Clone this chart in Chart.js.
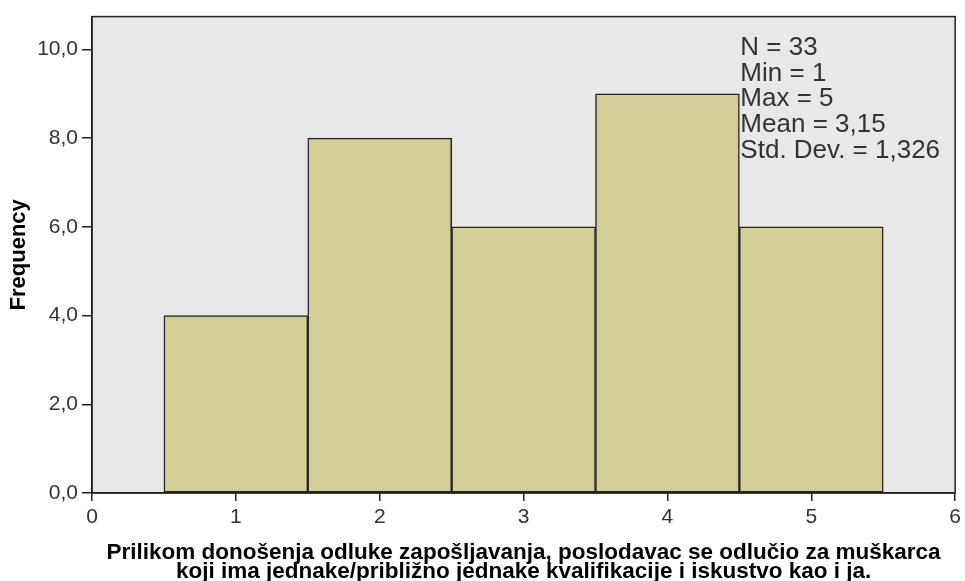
<!DOCTYPE html>
<html>
<head>
<meta charset="utf-8">
<script src="https://cdn.jsdelivr.net/npm/chart.js@4/dist/chart.umd.min.js"></script>
<style>
  html, body { margin: 0; padding: 0; background: #fff; }
  #wrap { width: 965px; height: 581px; }
</style>
</head>
<body>
<div id="wrap"><canvas id="c" width="965" height="581"></canvas></div>
<script>
  // histogram bins: centre value and frequency
  var binCentres = [1, 2, 3, 4, 5];
  var frequencies = [4, 8, 6, 9, 6];
  var yTicks = [0, 2, 4, 6, 8, 10];
  var statsLines = ["N = 33", "Min = 1", "Max = 5", "Mean = 3,15", "Std. Dev. = 1,326"];
  var xTitle = [
    "Prilikom donošenja odluke zapošljavanja, poslodavac se odlučio za muškarca",
    "koji ima jednake/približno jednake kvalifikacije i iskustvo kao i ja."
  ];

  var FONT = "'Liberation Sans', Arial, sans-serif";
  var COL = { bg: "#e8e8e8", bar: "#d3ce97", edge: "#222", text: "#333" };

  /* grey plot area, black frame and the SPSS stats block */
  var frame = {
    id: "frame",
    beforeDraw: function (chart) {
      var a = chart.chartArea, ctx = chart.ctx;
      ctx.save();
      ctx.fillStyle = COL.bg;
      ctx.fillRect(a.left, a.top, a.right - a.left, a.bottom - a.top);
      ctx.restore();
    },
    afterDraw: function (chart) {
      var a = chart.chartArea, ctx = chart.ctx;
      ctx.save();
      ctx.strokeStyle = "#222";
      ctx.lineWidth = 1.5;
      ctx.strokeRect(a.left, a.top, a.right - a.left, a.bottom - a.top);
      ctx.fillStyle = COL.text;
      ctx.font = "26px " + FONT;
      ctx.textBaseline = "alphabetic";
      var x = chart.scales.x.getPixelForValue(4.5) + 1;
      statsLines.forEach(function (s, i) {
        ctx.fillText(s, x, 55 + i * 25.7);
      });
      ctx.restore();
    }
  };

  new Chart(document.getElementById("c"), {
    type: "bar",
    data: {
      datasets: [{
        data: binCentres.map(function (c, i) { return { x: c, y: frequencies[i] }; }),
        backgroundColor: COL.bar,
        borderColor: COL.edge,
        borderWidth: 1.5,
        barPercentage: 1,
        categoryPercentage: 1,
        borderSkipped: false
      }]
    },
    plugins: [frame],
    options: {
      responsive: false,
      animation: false,
      devicePixelRatio: 1,
      layout: { padding: { left: 0, right: 7, top: 14, bottom: 0 } },
      plugins: { legend: { display: false }, tooltip: { enabled: false } },
      scales: {
        x: {
          type: "linear", min: 0, max: 6, offset: false,
          ticks: { stepSize: 1, color: COL.text, font: { family: FONT, size: 21 }, padding: 4 },
          grid: { offset: false, drawOnChartArea: false, drawTicks: true, tickLength: 8, color: "#222", lineWidth: 1.5 },
          border: { display: true, color: "#222", width: 1.5 },
          title: { display: true, text: xTitle, color: "#000", font: { family: FONT, size: 22.5, weight: "bold", lineHeight: 0.85 }, padding: { top: 3, bottom: 0 } },
          afterFit: function (s) { s.height = 88; }
        },
        y: {
          min: 0, max: 10.74,
          afterBuildTicks: function (s) { s.ticks = yTicks.map(function (v) { return { value: v }; }); },
          ticks: {
            color: COL.text, font: { family: FONT, size: 21 }, padding: 4,
            callback: function (v) { return v.toFixed(1).replace(".", ","); }
          },
          grid: { drawOnChartArea: false, drawTicks: true, tickLength: 10, color: "#222", lineWidth: 1.5 },
          border: { display: true, color: "#222", width: 1.5 },
          title: { display: true, text: "Frequency", color: "#000", font: { family: FONT, size: 22, weight: "bold" }, padding: { top: 6, bottom: 2 } },
          afterFit: function (s) { s.width = 92; }
        }
      }
    }
  });
</script>
</body>
</html>
